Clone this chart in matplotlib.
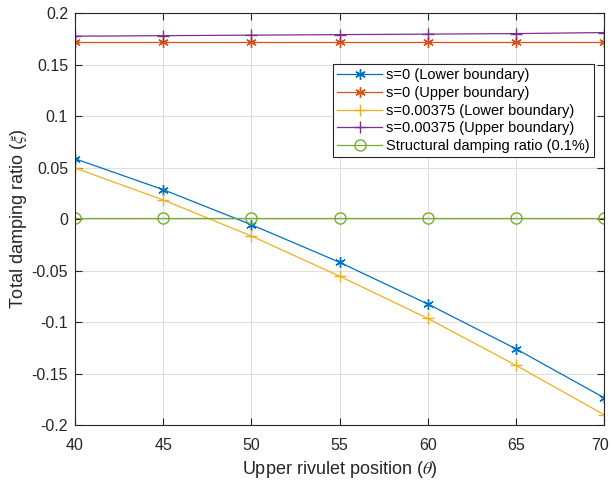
import numpy as np
import matplotlib
matplotlib.use("Agg")
import matplotlib.pyplot as plt
import matplotlib.transforms as mtransforms
from matplotlib.ticker import FuncFormatter

plt.rcParams['font.family'] = ['Liberation Sans', 'DejaVu Sans']
plt.rcParams['mathtext.fontset'] = 'stix'

# data
theta = [40, 45, 50, 55, 60, 65, 70]
s0_lower = [0.0585, 0.0285, -0.0055, -0.0420, -0.0825, -0.1260, -0.1735]
s0_upper = [0.1715, 0.1715, 0.1715, 0.1715, 0.1715, 0.1715, 0.1715]
s375_lower = [0.0495, 0.0185, -0.0165, -0.0555, -0.0965, -0.1420, -0.1900]
s375_upper = [0.1775, 0.1780, 0.1785, 0.1790, 0.1795, 0.1800, 0.1810]
structural = [0.001, 0.001, 0.001, 0.001, 0.001, 0.001, 0.001]

labels = ['s=0 (Lower boundary)', 's=0 (Upper boundary)',
          's=0.00375 (Lower boundary)', 's=0.00375 (Upper boundary)',
          'Structural damping ratio (0.1%)']

asterisk = (6, 2, 0)

fig = plt.figure(figsize=(6.11, 4.83), dpi=100)
ax = fig.add_axes([75/611, 1 - 425/483, (604-75)/611, (425-13)/483])

ax.plot(theta, s0_lower, color='#0072BD', lw=0.9, marker=asterisk, ms=7.5, mew=1.0, label=labels[0])
ax.plot(theta, s0_upper, color='#D95319', lw=0.9, marker=asterisk, ms=7.5, mew=1.0, label=labels[1])
ax.plot(theta, s375_lower, color='#EDB120', lw=0.9, marker='+', ms=9, mew=1.0, label=labels[2])
ax.plot(theta, s375_upper, color='#7E2F8E', lw=0.9, marker='+', ms=9, mew=1.0, label=labels[3])
ax.plot(theta, structural, color='#77AC30', lw=0.9, marker='o', ms=8, mfc='none', mew=1.0, label=labels[4])

ax.set_xlim(40, 70)
ax.set_ylim(-0.2, 0.2)
ax.set_xticks(np.arange(40, 71, 5))
ax.set_yticks(np.arange(-0.2, 0.201, 0.05))
ax.yaxis.set_major_formatter(FuncFormatter(lambda v, p: '%g' % round(v, 3) if abs(v) > 1e-9 else '0'))

ax.grid(True, color='#dfdfdf', lw=0.8)
ax.set_axisbelow(True)
ax.tick_params(direction='in', top=True, right=True, labelsize=11.5, colors='#262626', length=5, width=0.8)
ax.tick_params(axis='x', pad=9)
ax.tick_params(axis='y', pad=5)
for sp in ax.spines.values():
    sp.set_color('#262626')
    sp.set_linewidth(0.8)

# last x label sits right at the figure edge, nudge it in a bit
last = ax.get_xticklabels()[-1]
last.set_transform(last.get_transform() + mtransforms.ScaledTranslation(-4/100, 0, fig.dpi_scale_trans))

ax.set_xlabel(r'Upper rivulet position ($\theta$)', fontsize=13, color='#262626', labelpad=5)
ax.set_ylabel(r'Total damping ratio ($\xi$)', fontsize=13, color='#262626', labelpad=2)

leg = ax.legend(loc='upper right', bbox_to_anchor=(0.981, 0.876), fontsize=10.5,
                fancybox=False, edgecolor='#262626', framealpha=1,
                handlelength=3.1, borderpad=0.3, labelspacing=0.25, handletextpad=0.25,
                borderaxespad=0)
leg.get_frame().set_linewidth(0.8)

fig.savefig('out.png', dpi=100)
